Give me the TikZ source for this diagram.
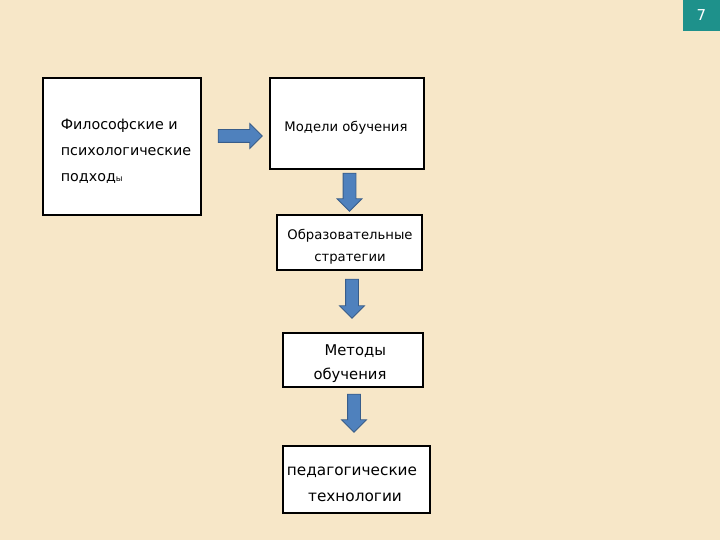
\documentclass[tikz,border=0pt]{standalone}
\usepackage{fontspec}
\setmainfont{DejaVu Sans}
\usetikzlibrary{shapes.arrows}
\definecolor{parch}{HTML}{F7E7C8}
\definecolor{arrowblue}{HTML}{4F81BD}
\definecolor{arrowedge}{HTML}{385D8A}
\definecolor{badge}{HTML}{1E918B}
\begin{document}
\begin{tikzpicture}[x=1pt,y=-1pt,
  box/.style={draw=black,line width=1.5pt,fill=white,inner sep=0pt},
  boxtext/.style={inner sep=0pt,yshift=-2pt},
  blockarrow/.style={single arrow,draw=arrowedge,fill=arrowblue,line width=0.8pt,
    inner sep=6pt,single arrow head extend=6pt,
    single arrow head indent=0pt}]
% background
\fill[parch] (0,0) rectangle (720,540);
\useasboundingbox (0,0) rectangle (720,540);
% page number
\node[fill=badge,minimum width=37pt,minimum height=31pt,inner sep=0pt,
  text=white,font=\fontsize{15}{15}\selectfont] (page) at (701.5,15.5) {7};
% boxes
\node[box,minimum width=158pt,minimum height=137pt] (phil) at (122,146.5) {};
\node[box,minimum width=154pt,minimum height=91pt] (models) at (347,123.5) {};
\node[box,minimum width=145pt,minimum height=55pt] (strat) at (349.5,242.5) {};
\node[box,minimum width=140pt,minimum height=54pt] (meth) at (353,360) {};
\node[box,minimum width=147pt,minimum height=67pt] (tech) at (356.5,479.5) {};
% texts
\node[boxtext,align=left,font=\fontsize{14.3}{26}\selectfont] (philtxt) at (126,149)
  {Философские и\\психологические\\подход{\fontsize{8.5}{8.5}\selectfont ы}};
\node[boxtext,font=\fontsize{13.2}{22}\selectfont] (modelstxt) at (346,126) {Модели обучения};
\node[boxtext,align=center,font=\fontsize{13.2}{22}\selectfont] (strattxt) at (350,245)
  {Образовательные\\стратегии};
\node[boxtext,align=left,font=\fontsize{14.8}{24}\selectfont] (methtxt) at (350,362)
  {\hspace*{11pt}Методы\\обучения};
\node[boxtext,align=center,font=\fontsize{15.3}{26}\selectfont] (techtxt) at (352,482)
  {педагогические\\\hspace*{6pt}технологии};
% block arrows
\node[blockarrow,minimum height=44pt] (toModels) at (237,136) {};
\node[blockarrow,minimum height=38pt,shape border rotate=270] (toStrat) at (349.5,189) {};
\node[blockarrow,minimum height=39pt,shape border rotate=270] (toMeth) at (352,295.5) {};
\node[blockarrow,minimum height=38pt,shape border rotate=270] (toTech) at (354,410) {};
\end{tikzpicture}
\end{document}
